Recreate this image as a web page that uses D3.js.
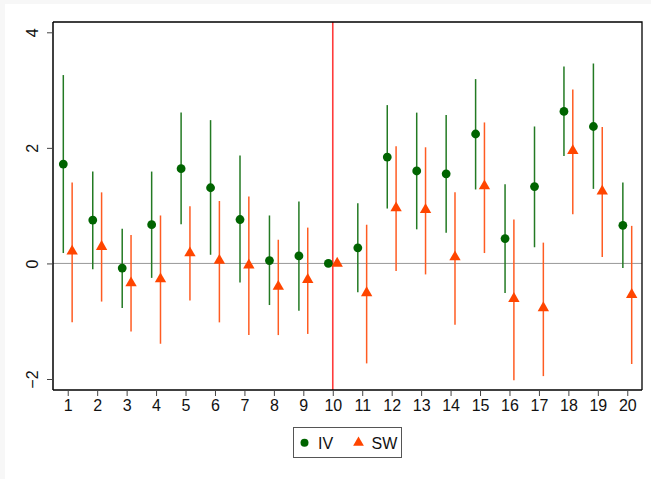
<!DOCTYPE html>
<html>
<head>
<meta charset="utf-8">
<script src="https://cdn.jsdelivr.net/npm/d3@7"></script>
<style>
  body { margin: 0; background: #f7f7f7; }
  svg { display: block; }
  text { font-family: "Liberation Sans", Arial, Helvetica, sans-serif; }
</style>
</head>
<body>
<div class="chart"></div>
<script>
var periods = d3.range(1, 21);

var ivEst = [1.72, 0.75, -0.08, 0.67, 1.64, 1.31, 0.76, 0.05, 0.13, 0, 0.27, 1.84, 1.60, 1.55, 2.24, 0.43, 1.33, 2.63, 2.37, 0.66];
var ivLow = [0.18, -0.10, -0.77, -0.25, 0.68, 0.15, -0.33, -0.72, -0.82, 0, -0.50, 0.95, 0.59, 0.53, 1.28, -0.51, 0.28, 1.86, 1.29, -0.08];
var ivHigh = [3.26, 1.59, 0.60, 1.59, 2.61, 2.48, 1.87, 0.83, 1.07, 0, 1.04, 2.74, 2.61, 2.57, 3.19, 1.37, 2.37, 3.41, 3.46, 1.40];

var swEst = [0.21, 0.29, -0.34, -0.27, 0.18, 0.05, -0.03, -0.40, -0.28, 0.0, -0.51, 0.96, 0.93, 0.11, 1.34, -0.61, -0.77, 1.95, 1.25, -0.54];
var swLow = [-1.02, -0.66, -1.18, -1.39, -0.64, -1.02, -1.24, -1.24, -1.22, 0.0, -1.73, -0.13, -0.19, -1.06, 0.18, -2.02, -1.95, 0.85, 0.11, -1.74];
var swHigh = [1.40, 1.23, 0.49, 0.83, 0.99, 1.08, 1.16, 0.41, 0.62, 0.0, 0.67, 2.03, 2.01, 1.23, 2.44, 0.76, 0.36, 3.01, 2.36, 0.65];

var yTicks = [-2, 0, 2, 4];
var refPeriod = 10;

var width = 651, height = 479;
// plot box (note: "top" is taken by window.top, so use m* names)
var mLeft = 53, mRight = 642, mTop = 22, mBottom = 390;

var svg = d3.select('.chart')
    .append('svg')
    .attr('width', width)
    .attr('height', height);

// white page with thin grey strip at top/left like the original
svg.append('rect')
    .attr('x', 5).attr('y', 4)
    .attr('width', width - 5).attr('height', height - 4)
    .attr('fill', 'white');

var x = d3.scaleLinear().domain([0.5, 20.5]).range([mLeft, mRight]);
var y = d3.scaleLinear().domain([-2, 4]).range([379, 32.3]);

var green = '#006400', greenLine = '#237a23';
var orange = '#ff4500', orangeLine = '#ff5c22';

// zero line
svg.append('line')
    .attr('x1', mLeft).attr('x2', mRight)
    .attr('y1', y(0)).attr('y2', y(0))
    .attr('stroke', '#999').attr('stroke-width', 1);

// reference period
svg.append('line')
    .attr('x1', x(refPeriod)).attr('x2', x(refPeriod))
    .attr('y1', mTop).attr('y2', mBottom)
    .attr('stroke', '#ff3b3b').attr('stroke-width', 1.6);

// plot frame top / right
svg.append('path')
    .attr('d', 'M' + mLeft + ',' + mTop + 'H' + mRight + 'V' + mBottom)
    .attr('fill', 'none').attr('stroke', 'black').attr('stroke-width', 1.3);

// axes
var yAxis = d3.axisLeft(y).tickValues(yTicks).tickSize(6).tickFormat(function (d) {
    return d < 0 ? '\u2212' + Math.abs(d) : d;
});
var gy = svg.append('g')
    .attr('transform', 'translate(' + mLeft + ',0)')
    .call(yAxis)
    .attr('font-size', 16)
    .attr('font-family', null);
gy.select('.domain').attr('d', 'M0,' + mTop + 'V' + mBottom).attr('stroke', 'black').attr('stroke-width', 1.5);
gy.selectAll('.tick line').attr('stroke', '#444');
gy.selectAll('.tick text')
    .attr('fill', '#111')
    .attr('x', 0).attr('dy', 0)
    .attr('text-anchor', 'middle')
    .attr('transform', 'translate(-15,0) rotate(-90)');

var xAxis = d3.axisBottom(x).tickValues(periods).tickSize(6).tickSizeOuter(0);
var gx = svg.append('g')
    .attr('transform', 'translate(0,' + mBottom + ')')
    .call(xAxis)
    .attr('font-size', 16)
    .attr('font-family', null);
gx.select('.domain').attr('d', 'M' + mLeft + ',0H' + mRight).attr('stroke', 'black').attr('stroke-width', 1.5);
gx.selectAll('.tick line').attr('stroke', '#444');
gx.selectAll('.tick text')
    .attr('fill', '#111')
    .attr('y', 9).attr('dy', '0.78em');

// data
var rows = periods.map(function (p, i) {
    return { p: p, iv: ivEst[i], ivLo: ivLow[i], ivHi: ivHigh[i], sw: swEst[i], swLo: swLow[i], swHi: swHigh[i] };
});
var off = 0.15;

svg.selectAll('.iv-ci')
    .data(rows.filter(function (d) { return d.ivLo !== d.ivHi; }))
    .enter().append('line')
    .attr('x1', function (d) { return x(d.p - off); })
    .attr('x2', function (d) { return x(d.p - off); })
    .attr('y1', function (d) { return y(d.ivLo); })
    .attr('y2', function (d) { return y(d.ivHi); })
    .attr('stroke', greenLine).attr('stroke-width', 1.5);

svg.selectAll('.sw-ci')
    .data(rows.filter(function (d) { return d.swLo !== d.swHi; }))
    .enter().append('line')
    .attr('x1', function (d) { return x(d.p + off); })
    .attr('x2', function (d) { return x(d.p + off); })
    .attr('y1', function (d) { return y(d.swLo); })
    .attr('y2', function (d) { return y(d.swHi); })
    .attr('stroke', orangeLine).attr('stroke-width', 1.5);

svg.selectAll('.iv-pt')
    .data(rows)
    .enter().append('circle')
    .attr('cx', function (d) { return x(d.p - off); })
    .attr('cy', function (d) { return y(d.iv); })
    .attr('r', 4.4)
    .attr('fill', green);

var tri = d3.symbol().type(d3.symbolTriangle).size(56);
svg.selectAll('.sw-pt')
    .data(rows)
    .enter().append('path')
    .attr('d', tri)
    .attr('transform', function (d) { return 'translate(' + x(d.p + off) + ',' + y(d.sw) + ')'; })
    .attr('fill', orange);

// legend
var lg = svg.append('g');
lg.append('rect')
    .attr('x', 293.5).attr('y', 427.5)
    .attr('width', 108).attr('height', 30)
    .attr('fill', 'white').attr('stroke', '#555').attr('stroke-width', 1);
lg.append('circle').attr('cx', 304.5).attr('cy', 442.7).attr('r', 4).attr('fill', green);
lg.append('text').attr('x', 318).attr('y', 448.5).attr('font-size', 16).attr('fill', '#111').text('IV');
lg.append('path').attr('d', d3.symbol().type(d3.symbolTriangle).size(50))
    .attr('transform', 'translate(358.5,442.7)').attr('fill', orange);
lg.append('text').attr('x', 371.5).attr('y', 448.5).attr('font-size', 16).attr('fill', '#111').text('SW');
</script>
</body>
</html>
